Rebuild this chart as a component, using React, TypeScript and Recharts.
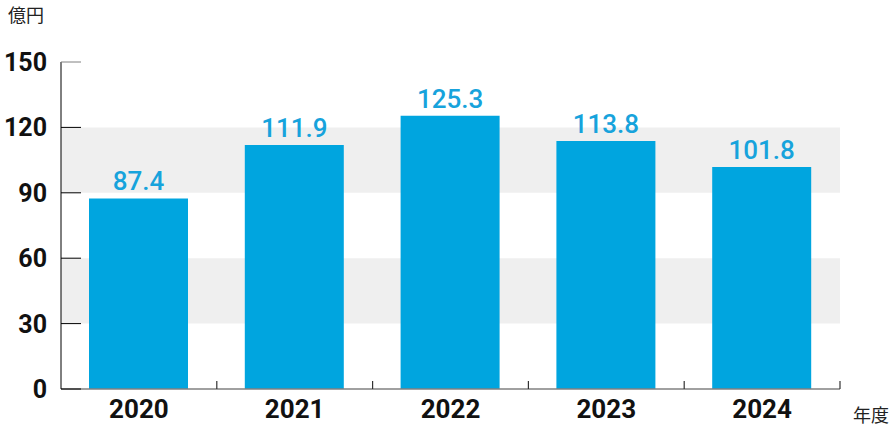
import { Bar, BarChart, LabelList, ReferenceArea, XAxis, YAxis } from "recharts";

const years = ["2020", "2021", "2022", "2023", "2024"];
const sales = [87.4, 111.9, 125.3, 113.8, 101.8];
const yTicks = [0, 30, 60, 90, 120, 150];
const bands: [number, number][] = [
  [30, 60],
  [90, 120],
];

const BLUE = "#00a5df";
const NUM_FONT = "Roboto, 'Noto Sans', sans-serif";
const JP_FONT = "'Noto Sans CJK JP', 'Noto Sans', sans-serif";

const data = years.map((y, i) => ({ year: y, value: sales[i] }));

/* y tick: label to the left, short tick line drawn inward */
function YTick(props: any) {
  const { x, y, payload } = props;
  const top = payload.value === 150;
  return (
    <g>
      <line x1={x} y1={y} x2={x + 20} y2={y} stroke={top ? "#808080" : "#000"} strokeWidth={1} />
      <text
        x={x - 14}
        y={y}
        dy={9}
        textAnchor="end"
        fontFamily={NUM_FONT}
        fontWeight={700}
        fontSize={25}
        fill="#111"
      >
        {payload.value}
      </text>
    </g>
  );
}

/* x tick: year label plus a small tick at the right category boundary */
function XTick(props: any) {
  const { x, y, payload, width, visibleTicksCount } = props;
  const half = width / visibleTicksCount / 2;
  return (
    <g>
      <line x1={x + half} y1={y} x2={x + half} y2={y - 8} stroke="#333" strokeWidth={1.2} />
      <text
        x={x}
        y={y}
        dy={29}
        textAnchor="middle"
        fontFamily={NUM_FONT}
        fontWeight={700}
        fontSize={26}
        fill="#111"
      >
        {payload.value}
      </text>
    </g>
  );
}

export default function App() {
  return (
    <div style={{ position: "absolute", left: 0, top: 0, width: 895, height: 430, background: "#fff" }}>
      <div style={{ position: "absolute", left: 8, top: 1, fontFamily: JP_FONT, fontSize: 18, color: "#222" }}>
        億円
      </div>
      <div style={{ position: "absolute", left: 853, top: 401, fontFamily: JP_FONT, fontSize: 18, color: "#222" }}>
        年度
      </div>
      <BarChart
        width={895}
        height={430}
        data={data}
        margin={{ top: 62, right: 55, left: 0, bottom: 0 }}
      >
        {bands.map(([a, b], i) => (
          <ReferenceArea key={i} y1={a} y2={b} fill="#efefef" fillOpacity={1} stroke="none" ifOverflow="visible" />
        ))}
        <XAxis
          dataKey="year"
          height={41}
          tickSize={0}
          tickMargin={0}
          tickLine={false}
          axisLine={{ stroke: "#808080", strokeWidth: 1.5 }}
          tick={<XTick />}
          interval={0}
        />
        <YAxis
          width={61}
          domain={[0, 150]}
          ticks={yTicks}
          tickSize={0}
          tickMargin={0}
          tickLine={false}
          axisLine={{ stroke: "#000", strokeWidth: 1 }}
          tick={<YTick />}
          interval={0}
        />
        <Bar dataKey="value" fill={BLUE} barSize={99} isAnimationActive={false}>
          <LabelList
            dataKey="value"
            position="top"
            offset={8}
            fill="#17a3dc"
            fontFamily={NUM_FONT}
            fontWeight={500}
            fontSize={26}
            formatter={(v: any) => Number(v).toFixed(1)}
          />
        </Bar>
      </BarChart>
    </div>
  );
}
